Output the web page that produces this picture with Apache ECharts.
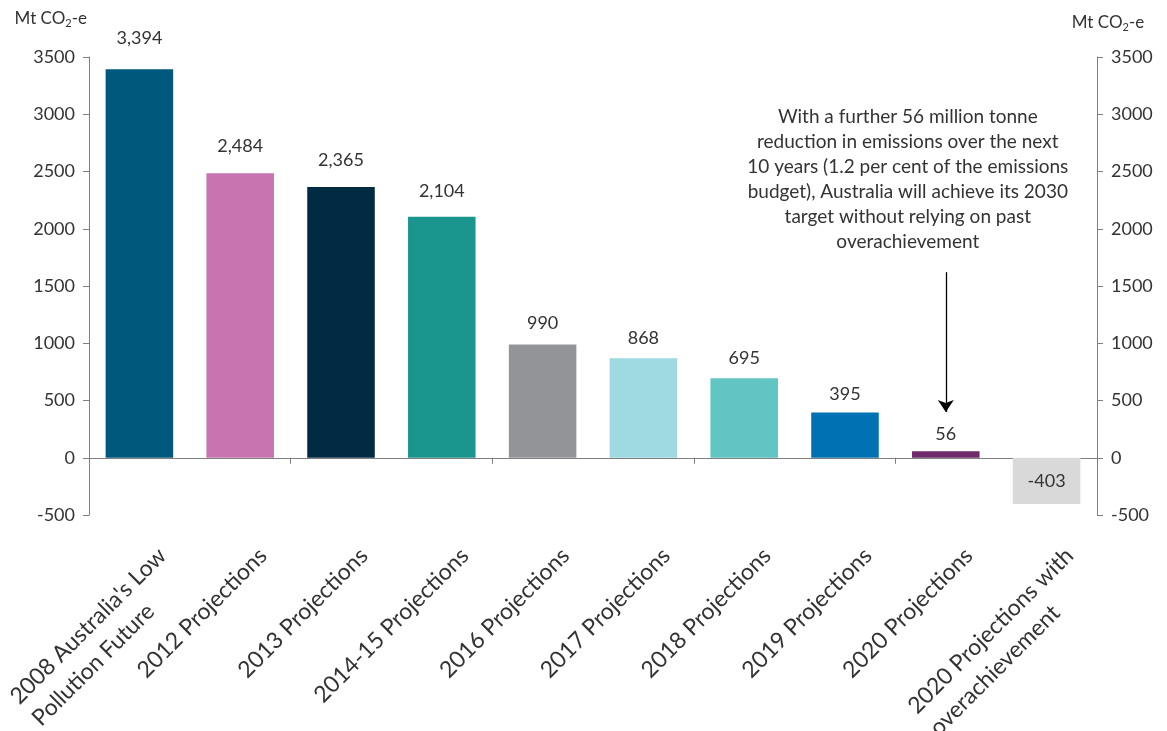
<!DOCTYPE html>
<html>
<head>
<meta charset="utf-8">
<title>Emissions budget projections</title>
<script src="https://cdn.jsdelivr.net/npm/echarts@6/dist/echarts.min.js"></script>
<style>
  html, body { margin: 0; padding: 0; background: #ffffff; }
  #chart { width: 1167px; height: 731px; }
</style>
</head>
<body>
<div id="chart"></div>
<script>
// Cumulative emissions reduction task to 2030, by projection vintage (Mt CO2-e)
const categories = [
  "2008 Australia's Low\nPollution Future",
  "2012 Projections",
  "2013 Projections",
  "2014-15 Projections",
  "2016 Projections",
  "2017 Projections",
  "2018 Projections",
  "2019 Projections",
  "2020 Projections",
  "2020 Projections with\noverachievement"
];
const values = [3394, 2484, 2365, 2104, 990, 868, 695, 395, 56, -403];
const barColors = [
  '#00587c', '#c874b0', '#002b42', '#1b968e', '#939497',
  '#9fd9e2', '#60c5c3', '#0071b2', '#6e2a6b', '#d9d9d9'
];
const yTicks = { min: -500, max: 3500, interval: 500 };
const noteText = [
  'With a further 56 million tonne',
  'reduction in emissions over the next',
  '10 years (1.2 per cent of the emissions',
  'budget), Australia will achieve its 2030',
  'target without relying on past',
  'overachievement'
];
const noteCategory = 8;
const arrowRange = [1621, 400];

const FONT = 'Lato';
const TEXT = '#333333';
const AXIS = '#7f7f7f';
const CAT_SIZE = 23;
const CAT_LINE = 31;

// measure text so the second line of a two-line category label lines up
// with the start of the first line
const ctx = document.createElement('canvas').getContext('2d');
ctx.font = CAT_SIZE + 'px ' + FONT;
const catRich = {
  a: { fontFamily: FONT, fontSize: CAT_SIZE, color: TEXT, lineHeight: CAT_LINE }
};
const catFormatted = categories.map((c, i) => {
  const parts = c.split('\n');
  if (parts.length === 1) return '{a|' + c + '}';
  const diff = Math.max(0, ctx.measureText(parts[0]).width - ctx.measureText(parts[1]).width);
  catRich['b' + i] = {
    fontFamily: FONT, fontSize: CAT_SIZE, color: TEXT, lineHeight: CAT_LINE,
    padding: [0, diff, 0, 0]
  };
  return '{a|' + parts[0] + '}\n{b' + i + '|' + parts[1] + '}';
});

const titleRich = {
  n: { fontFamily: FONT, fontSize: 17, color: TEXT },
  s: { fontFamily: FONT, fontSize: 11, color: TEXT, padding: [9, 0, 0, 0] }
};
const titleFmt = '{n|Mt CO}{s|2}{n|-e}';

const grid = { left: 89, right: 70, top: 57, bottom: 216, outerBoundsMode: 'none', containLabel: false };

const yAxisBase = {
  type: 'value',
  min: yTicks.min,
  max: yTicks.max,
  interval: yTicks.interval,
  splitLine: { show: false },
  axisLine: { show: true, lineStyle: { color: AXIS, width: 1 } },
  axisTick: { show: true, length: 6, lineStyle: { color: AXIS } },
  axisLabel: { fontFamily: FONT, fontSize: 18, color: TEXT, margin: 14, formatter: v => String(v) },
  name: titleFmt,
  nameLocation: 'end'
};

const chart = echarts.init(document.getElementById('chart'), null, { renderer: 'canvas' });

chart.setOption({
  animation: false,
  textStyle: { fontFamily: FONT },
  grid: [
    grid,
    Object.assign({}, grid, { left: grid.left + 12, right: grid.right - 12 })
  ],
  xAxis: [
    {
      type: 'category',
      gridIndex: 0,
      data: categories,
      axisLine: { show: true, onZero: true, lineStyle: { color: AXIS, width: 1 } },
      axisTick: { show: true, length: 6, lineStyle: { color: AXIS } },
      axisLabel: { show: false }
    },
    {
      type: 'category',
      gridIndex: 1,
      position: 'bottom',
      data: categories,
      axisLine: { show: false, onZero: false },
      axisTick: { show: false },
      axisLabel: {
        show: true,
        interval: 0,
        rotate: 45,
        align: 'right',
        verticalAlign: 'top',
        margin: 26,
        rich: catRich,
        formatter: (v, i) => catFormatted[i]
      }
    }
  ],
  yAxis: [
    Object.assign({}, yAxisBase, {
      gridIndex: 0,
      position: 'left',
      nameGap: 28,
      nameTextStyle: { align: 'right', padding: [0, 2, 0, 0], rich: titleRich }
    }),
    Object.assign({}, yAxisBase, {
      gridIndex: 0,
      position: 'right',
      nameGap: 24,
      nameTextStyle: { align: 'center', padding: [0, 0, 0, 22], rich: titleRich }
    }),
    { type: 'value', gridIndex: 1, show: false, min: yTicks.min, max: yTicks.max }
  ],
  series: [
    {
      type: 'bar',
      xAxisIndex: 0,
      yAxisIndex: 0,
      barWidth: '67%',
      silent: true,
      data: values.map((v, i) => ({
        value: v,
        itemStyle: { color: barColors[i] },
        label: v < 0
          ? { position: 'inside' }
          : { position: 'top', distance: 8 + v * 0.004 }
      })),
      label: {
        show: true,
        fontFamily: FONT,
        fontSize: 18,
        color: TEXT,
        formatter: p => p.value.toLocaleString('en-US')
      },
      markLine: {
        silent: true,
        animation: false,
        symbol: ['none', 'arrow'],
        symbolSize: 12,
        lineStyle: { color: '#000000', width: 1.3, type: 'solid' },
        label: {
          show: true,
          position: 'start',
          distance: 18,
          formatter: noteText.join('\n'),
          fontFamily: FONT,
          fontSize: 19,
          lineHeight: 25,
          color: TEXT,
          padding: [0, 76, 0, 0]
        },
        data: [[
          { coord: [noteCategory, arrowRange[0]] },
          { coord: [noteCategory, arrowRange[1]] }
        ]]
      }
    }
  ]
});
</script>
</body>
</html>
